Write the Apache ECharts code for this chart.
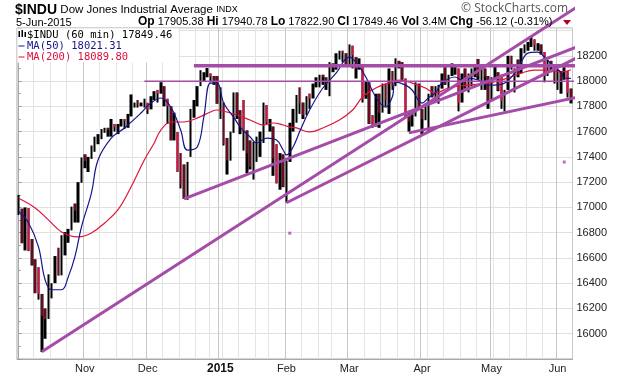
<!DOCTYPE html>
<html>
<head>
<meta charset="utf-8">
<script src="https://cdn.jsdelivr.net/npm/echarts@6/dist/echarts.min.js"></script>
<style>
  html, body { margin: 0; padding: 0; background: #fff; }
  #chart { width: 620px; height: 376px; }
</style>
</head>
<body>
<div id="chart"></div>
<script>
// trading days shown on the 60 min chart (one entry per session)
const dates = [
  '2014-10-06','2014-10-07','2014-10-08','2014-10-09','2014-10-10','2014-10-13','2014-10-14','2014-10-15','2014-10-16','2014-10-17',
  '2014-10-20','2014-10-21','2014-10-22','2014-10-23','2014-10-24','2014-10-27','2014-10-28','2014-10-29','2014-10-30','2014-10-31',
  '2014-11-03','2014-11-04','2014-11-05','2014-11-06','2014-11-07','2014-11-10','2014-11-11','2014-11-12','2014-11-13','2014-11-14',
  '2014-11-17','2014-11-18','2014-11-19','2014-11-20','2014-11-21','2014-11-24','2014-11-25','2014-11-26','2014-11-28',
  '2014-12-01','2014-12-02','2014-12-03','2014-12-04','2014-12-05','2014-12-08','2014-12-09','2014-12-10','2014-12-11','2014-12-12',
  '2014-12-15','2014-12-16','2014-12-17','2014-12-18','2014-12-19','2014-12-22','2014-12-23','2014-12-24','2014-12-26','2014-12-29',
  '2014-12-30','2014-12-31',
  '2015-01-02','2015-01-05','2015-01-06','2015-01-07','2015-01-08','2015-01-09','2015-01-12','2015-01-13','2015-01-14','2015-01-15',
  '2015-01-16','2015-01-20','2015-01-21','2015-01-22','2015-01-23','2015-01-26','2015-01-27','2015-01-28','2015-01-29','2015-01-30',
  '2015-02-02','2015-02-03','2015-02-04','2015-02-05','2015-02-06','2015-02-09','2015-02-10','2015-02-11','2015-02-12','2015-02-13',
  '2015-02-17','2015-02-18','2015-02-19','2015-02-20','2015-02-23','2015-02-24','2015-02-25','2015-02-26','2015-02-27',
  '2015-03-02','2015-03-03','2015-03-04','2015-03-05','2015-03-06','2015-03-09','2015-03-10','2015-03-11','2015-03-12','2015-03-13',
  '2015-03-16','2015-03-17','2015-03-18','2015-03-19','2015-03-20','2015-03-23','2015-03-24','2015-03-25','2015-03-26','2015-03-27',
  '2015-03-30','2015-03-31',
  '2015-04-01','2015-04-02','2015-04-06','2015-04-07','2015-04-08','2015-04-09','2015-04-10','2015-04-13','2015-04-14','2015-04-15',
  '2015-04-16','2015-04-17','2015-04-20','2015-04-21','2015-04-22','2015-04-23','2015-04-24','2015-04-27','2015-04-28','2015-04-29',
  '2015-04-30',
  '2015-05-01','2015-05-04','2015-05-05','2015-05-06','2015-05-07','2015-05-08','2015-05-11','2015-05-12','2015-05-13','2015-05-14',
  '2015-05-15','2015-05-18','2015-05-19','2015-05-20','2015-05-21','2015-05-22','2015-05-26','2015-05-27','2015-05-28','2015-05-29',
  '2015-06-01','2015-06-02','2015-06-03','2015-06-04','2015-06-05'
]

const lows = [
  16940,16716,16659,16654,16540,16321,16270,15855,15960,16117,16280,16400,16460,16462,16620,16720,16818,16880,16880,17195,
  17310,17280,17384,17440,17500,17540,17590,17560,17560,17600,17580,17640,17620,17630,17720,17790,17790,17800,17790,
  17740,17776,17850,17830,17900,17800,17660,17530,17530,17280,17150,17068,17060,17400,17710,17800,17960,18000,18030,17990,17970,17820,
  17700,17490,17260,17370,17590,17700,17580,17450,17270,17300,17220,17360,17400,17510,17660,17600,17250,17190,17140,17160,
  17037,17360,17600,17670,17740,17700,17730,17780,17862,17950,17950,17970,17930,17880,18070,18090,18170,18150,18120,
  18130,18100,18020,18090,17830,17860,17660,17630,17640,17630,17750,17800,17740,17930,17960,18100,18010,17710,17600,17640,17720,17770,
  17580,17690,17600,17870,17840,17820,17940,17970,17930,18040,18050,17760,17830,17940,17910,17960,18030,18010,17930,17930,17780,
  17841,18020,17920,17780,17760,17930,18090,17910,18030,18061,18220,18240,18270,18240,18240,18210,17990,18040,18070,17980,
  17930,17900,18010,17870,17823
]

const highs = [
  17099,16990,17000,16994,16750,16590,16526,16315,16200,16470,16400,16615,16680,16780,16805,16830,17006,17030,17200,17395,
  17420,17400,17490,17560,17580,17620,17630,17630,17700,17660,17660,17700,17700,17740,17894,17830,17850,17830,17860,
  17828,17880,17920,17930,17991,17960,17860,17800,17750,17597,17430,17340,17360,17780,17850,17960,18086,18070,18103,18060,18040,18040,
  17950,17830,17550,17600,17910,17910,17770,17850,17610,17530,17520,17560,17600,17830,17810,17700,17640,17500,17430,17420,
  17370,17670,17780,17890,17950,17830,17880,17900,17980,18030,18050,18050,18030,18150,18140,18220,18240,18240,18220,
  18290,18280,18190,18180,18130,18000,17990,17730,17900,17900,17980,17980,18100,18080,18180,18160,18150,18020,17760,17740,17990,17980,
  17780,17800,17900,17960,17960,17970,18060,18110,18050,18140,18130,18100,18060,18100,18060,18100,18110,18175,18120,18100,18040,
  18030,18130,18070,18050,17930,18200,18200,18100,18170,18260,18290,18310,18351,18330,18300,18290,18230,18170,18160,18130,
  18090,18080,18110,18080,17941
]

const closes = [
  16992,16719,16994,16659,16544,16321,16315,16142,16117,16380,16400,16615,16462,16677,16805,16818,17006,16974,17195,17391,
  17367,17384,17484,17554,17573,17614,17615,17612,17652,17635,17647,17688,17686,17719,17810,17818,17815,17828,17828,
  17776,17880,17913,17901,17959,17853,17801,17533,17597,17281,17180,17068,17357,17778,17805,17959,18024,18030,18053,18038,17983,17823,
  17833,17501,17371,17585,17908,17737,17640,17613,17427,17321,17511,17515,17554,17813,17672,17678,17387,17191,17416,17165,
  17361,17666,17673,17885,17824,17729,17868,17862,17973,18019,18047,18030,17986,18140,18117,18209,18225,18215,18133,
  18288,18204,18097,18136,17856,17996,17662,17635,17896,17749,17977,17849,18076,17959,18128,18116,18012,17718,17678,17713,17977,17776,
  17698,17763,17880,17875,17902,17958,18057,17977,18036,18113,18106,17826,18034,17950,18038,18058,18080,18038,18110,18035,17841,
  18024,18070,17929,17842,17925,18191,18105,18068,18061,18252,18272,18299,18312,18285,18285,18232,18041,18162,18126,18011,
  18040,18011,18076,17906,17849
]

// moving averages (session index, value)
const ma50Idx = [0,3,6,8,10,13,15,17,19,22,24,28,32,37,40,43,46,49,51,54,56,58,60,62,65,67,70,72,75,78,80,81,83,85,88,92,96,
  100,102,105,108,111,113,114,117,119,122,124,126,128,132,134,136,139,142,144,147,150,152,154,157,159,162,164,165,167]
const ma50 = [16967,16877,16688,16427,16348,16348,16450,16608,16846,17113,17375,17549,17629,17747,17826,17866,17794,17612,17454,17478,17715,17984,17984,17826,17715,17636,17557,17510,17549,17533,17454,17415,17478,17600,17771,17945,18063,
  18190,18150,18032,17874,17794,17874,17992,17968,17929,17826,17870,17905,17984,18032,18008,18024,18008,17968,17968,17984,18063,18150,18221,18229,18190,18110,18071,18024,18021]

const ma200Idx = [0,5,9,13,18,22,26,30,34,38,41,43,46,50,54,58,60,63,66,70,74,77,80,82,84,88,92,97,101,104,108,112,115,119,123,126,130,136,142,148,152,156,160,164,167]
const ma200 = [17073,16996,16901,16806,16767,16798,16877,16980,17162,17375,17510,17612,17676,17676,17707,17755,17771,17755,17731,17692,17652,17668,17652,17636,17629,17597,17629,17692,17771,17874,17945,17984,18008,17984,17945,17905,17945,17968,17984,18024,18063,18087,18087,18071,18090]

// drawn trendlines: [session index, price] at both ends
const trendA = [[7, 15858], [172, 18640]]
const trendB = [[50, 17068], [182, 18403]]
const trendC = [[81, 17037], [182, 18356]]
const trendD = [[118, 17590], [182, 17944]]
const levelHigh = [[53, 18122], [182, 18122]]
const levelLow = [[38, 17998], [182, 17998]]
const stray = [[82, 16796], [165, 17359]]

const monthNames = ['Jan','Feb','Mar','Apr','May','Jun','Jul','Aug','Sep','Oct','Nov','Dec']

function isMonthStart(i) {
  return i > 0 && dates[i].slice(0, 7) !== dates[i - 1].slice(0, 7)
}
function isWeekStart(i) {
  if (i === 0) return false
  return new Date(dates[i]).getUTCDay() < new Date(dates[i - 1]).getUTCDay()
}

// every session as a solid black low-high bar
const blackBars = dates.map((d, i) => [lows[i], highs[i], lows[i], highs[i]])
// down sessions get a red stroke from the high to the close
const redBars = dates.map((d, i) => {
  if (i === 0 || closes[i] >= closes[i - 1]) return '-'
  return [highs[i], closes[i], closes[i], highs[i]]
})

const purple = '#a44ca8'
const red = '#dc1040'
const navy = '#14148c'
const lineSeries = (pts, width) => ({
  type: 'line',
  xAxisIndex: 2,
  data: pts,
  symbol: 'none',
  clip: false,
  silent: true,
  z: 6,
  lineStyle: { color: purple, width },
})

const chart = echarts.init(document.getElementById('chart'), null, { renderer: 'canvas' })

const option = {
  animation: false,
  backgroundColor: '#fff',
  grid: { left: 17, right: 47.5, top: 28, bottom: 17, show: true, borderColor: '#a8a8a8', borderWidth: 1, backgroundColor: '#fff' },
  xAxis: [
    {
      type: 'category',
      data: dates,
      boundaryGap: true,
      axisLine: { show: true, lineStyle: { color: '#a8a8a8' } },
      axisTick: { show: false },
      axisLabel: {
        interval: (i) => isMonthStart(i),
        formatter: (v) => {
          const m = Number(v.slice(5, 7))
          return m === 1 ? '{y|' + v.slice(0, 4) + '}' : monthNames[m - 1]
        },
        color: '#222',
        fontFamily: 'Liberation Sans, Arial, sans-serif',
        fontSize: 11,
        margin: 4,
        rich: { y: { fontWeight: 'bold', fontSize: 12, color: '#111' } },
      },
      splitLine: { show: true, interval: (i) => isWeekStart(i), lineStyle: { color: '#e4e4e4', width: 1 } },
    },
    {
      type: 'category',
      data: dates,
      boundaryGap: true,
      axisLine: { show: false },
      axisTick: { show: false },
      axisLabel: { show: false },
      splitLine: { show: true, interval: (i) => isMonthStart(i), lineStyle: { color: '#c6c6c6', width: 1 } },
    },
    { type: 'value', min: -0.5, max: dates.length - 0.5, show: false },
  ],
  yAxis: {
    type: 'value',
    position: 'right',
    min: 15800,
    max: 18420,
    interval: 200,
    axisLine: { show: true, lineStyle: { color: '#a8a8a8' } },
    axisTick: { show: true, length: 3, lineStyle: { color: '#999' } },
    minorTick: { show: true, splitNumber: 2, length: 2, lineStyle: { color: '#999' } },
    axisLabel: {
      color: '#222',
      fontFamily: 'Liberation Sans, Arial, sans-serif',
      fontSize: 11,
      margin: 4,
      formatter: (v) => (v >= 16000 && v <= 18200 ? String(v) : ''),
    },
    splitLine: { show: true, lineStyle: { color: '#e0e0e0' } },
  },
  series: [
    {
      type: 'candlestick',
      xAxisIndex: 0,
      data: blackBars,
      barWidth: '92%',
      z: 2,
      itemStyle: { color: '#000', color0: '#000', borderColor: '#000', borderColor0: '#000', borderWidth: 0 },
    },
    {
      type: 'candlestick',
      xAxisIndex: 0,
      data: redBars,
      barWidth: 1.8,
      z: 3,
      itemStyle: { color: red, color0: red, borderColor: red, borderColor0: red, borderWidth: 0 },
    },
    {
      type: 'line',
      xAxisIndex: 2,
      data: ma200Idx.map((x, i) => [x, ma200[i]]),
      smooth: 0.4,
      symbol: 'none',
      z: 4,
      lineStyle: { color: '#e0143c', width: 1.2 },
    },
    {
      type: 'line',
      xAxisIndex: 2,
      data: ma50Idx.map((x, i) => [x, ma50[i]]),
      smooth: 0.4,
      symbol: 'none',
      z: 5,
      lineStyle: { color: navy, width: 1.2 },
    },
    lineSeries(trendA, 3),
    lineSeries(trendB, 3),
    lineSeries(trendC, 3),
    lineSeries(trendD, 3),
    lineSeries(levelHigh, 3.5),
    lineSeries(levelLow, 1.5),
    {
      type: 'scatter',
      xAxisIndex: 2,
      data: stray,
      symbol: 'rect',
      symbolSize: 3,
      itemStyle: { color: purple },
      z: 6,
    },
  ],
  graphic: [
    {
      type: 'text', left: 15, top: 3, z: 100,
      style: {
        text: '{t|$INDU} {n|Dow Jones Industrial Average} {s|INDX}',
        rich: {
          t: { fontFamily: 'Liberation Sans, Arial', fontWeight: 'bold', fontSize: 14, fill: '#000' },
          n: { fontFamily: 'Liberation Sans, Arial', fontSize: 11.5, fill: '#000' },
          s: { fontFamily: 'Liberation Sans, Arial', fontSize: 9, fill: '#000' },
        },
      },
    },
    {
      type: 'text', left: 16, top: 17, z: 100,
      style: { text: '5-Jun-2015', font: '11px Liberation Sans, Arial', fill: '#000' },
    },
    {
      type: 'text', left: 138, top: 16, z: 100,
      style: {
        text: '{b|Op} 17905.38 {b|Hi} 17940.78 {b|Lo} 17822.90 {b|Cl} 17849.46 {b|Vol} 3.4M {b|Chg} -56.12 (-0.31%)',
        font: '11px Liberation Sans, Arial',
        fill: '#000',
        rich: { b: { fontFamily: 'Liberation Sans, Arial', fontWeight: 'bold', fontSize: 12, fill: '#000' } },
      },
    },
    {
      type: 'text', right: 52, top: 3, z: 100,
      style: { text: '\u00a9 StockCharts.com', font: '12px Open Sans, Lato, sans-serif', fill: '#555' },
    },
    {
      type: 'polygon', z: 100,
      shape: { points: [[563, 20], [571, 20], [567, 25]] },
      style: { fill: '#b0001e' },
    },
    { type: 'rect', z: 100, shape: { x: 17.5, y: 28.5, width: 161, height: 34 }, style: { fill: '#fff' } },
    { type: 'rect', z: 101, shape: { x: 18.5, y: 31, width: 1.5, height: 6 }, style: { fill: '#000' } },
    { type: 'rect', z: 101, shape: { x: 21.5, y: 30, width: 1.5, height: 7 }, style: { fill: '#000' } },
    { type: 'rect', z: 101, shape: { x: 24.5, y: 32, width: 1.5, height: 5 }, style: { fill: '#000' } },
    { type: 'text', z: 101, x: 27, y: 35, style: { text: '$INDU (60 min) 17849.46', font: '10.5px DejaVu Sans Mono, monospace', fill: '#000', verticalAlign: 'middle' } },
    { type: 'rect', z: 101, shape: { x: 18.5, y: 45.5, width: 6, height: 1 }, style: { fill: navy } },
    { type: 'text', z: 101, x: 27, y: 46, style: { text: 'MA(50) 18021.31', font: '10.5px DejaVu Sans Mono, monospace', fill: navy, verticalAlign: 'middle' } },
    { type: 'rect', z: 101, shape: { x: 18.5, y: 56.5, width: 6, height: 1 }, style: { fill: red } },
    { type: 'text', z: 101, x: 27, y: 57, style: { text: 'MA(200) 18089.80', font: '10.5px DejaVu Sans Mono, monospace', fill: red, verticalAlign: 'middle' } },
  ],
}

chart.setOption(option)
</script>
</body>
</html>
